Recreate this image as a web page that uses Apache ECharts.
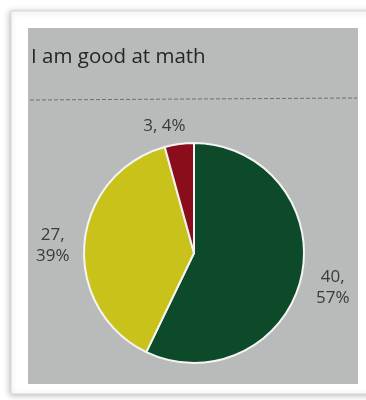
<!DOCTYPE html>
<html>
<head>
<meta charset="utf-8">
<script src="https://cdn.jsdelivr.net/npm/echarts@6/dist/echarts.min.js"></script>
<style>
  html, body { margin: 0; padding: 0; background: #ffffff; }
  #chart { width: 366px; height: 400px; }
</style>
</head>
<body>
<div id="chart"></div>
<script>
// Survey answers for "I am good at math"
const titleText = 'I am good at math';
const categories = ['Agree', 'Neutral', 'Disagree'];
const counts = [40, 27, 3];
const sliceColors = ['#0c4a2a', '#c9c21b', '#8a0d1c'];

const chart = echarts.init(document.getElementById('chart'), null, { renderer: 'canvas' });

// small per-slice label nudges [dx, dy] so each label sits where the print put it
const labelNudge = [[0, 8], [2, 4], [13, -6]];
const labelGap = [10, 12, 12];

const pieData = categories.map((name, i) => ({
  name: name,
  value: counts[i],
  itemStyle: { color: sliceColors[i] },
  labelLine: { show: false, length: labelGap[i], length2: 0 },
  label: {
    formatter: i === 2 ? '{c}, {d}%' : '{c},\n{d}%'
  }
}));

chart.setOption({
  backgroundColor: '#ffffff',
  animation: false,
  graphic: [
    {
      type: 'rect',
      z: 0,
      shape: { x: 11, y: 11, width: 380, height: 383 },
      style: {
        fill: '#ffffff',
        stroke: '#d6d6d6',
        lineWidth: 1,
        shadowBlur: 6,
        shadowColor: 'rgba(0,0,0,0.25)',
        shadowOffsetX: -1,
        shadowOffsetY: 1
      }
    },
    {
      type: 'rect',
      z: 1,
      shape: { x: 28, y: 28, width: 330, height: 356 },
      style: { fill: '#b9baba' }
    },
    {
      type: 'line',
      z: 2,
      shape: { x1: 30, y1: 100, x2: 357, y2: 98 },
      style: { stroke: '#6e6f6f', lineWidth: 1, lineDash: [4, 2] }
    }
  ],
  title: {
    text: titleText,
    left: 26,
    top: 42,
    textStyle: {
      fontFamily: 'Open Sans',
      fontWeight: 'normal',
      fontSize: 20.5,
      color: '#262626'
    }
  },
  series: [
    {
      type: 'pie',
      center: [194, 253],
      radius: [0, 110],
      startAngle: 90,
      clockwise: true,
      percentPrecision: 0,
      avoidLabelOverlap: false,
      itemStyle: { borderColor: '#f4f4f4', borderWidth: 2 },
      label: {
        show: true,
        position: 'outside',
        fontFamily: 'Open Sans',
        fontSize: 17,
        lineHeight: 21,
        color: '#3a3a3a'
      },
      // centre each label block over its anchor side, like the printed labels
      labelLayout: function (params) {
        const half = params.labelRect.width / 2;
        const n = labelNudge[params.dataIndex];
        return {
          align: 'center',
          dx: (params.align === 'right' ? -half : half) + n[0],
          dy: n[1]
        };
      },
      emphasis: { disabled: true },
      data: pieData
    }
  ]
});
</script>
</body>
</html>
